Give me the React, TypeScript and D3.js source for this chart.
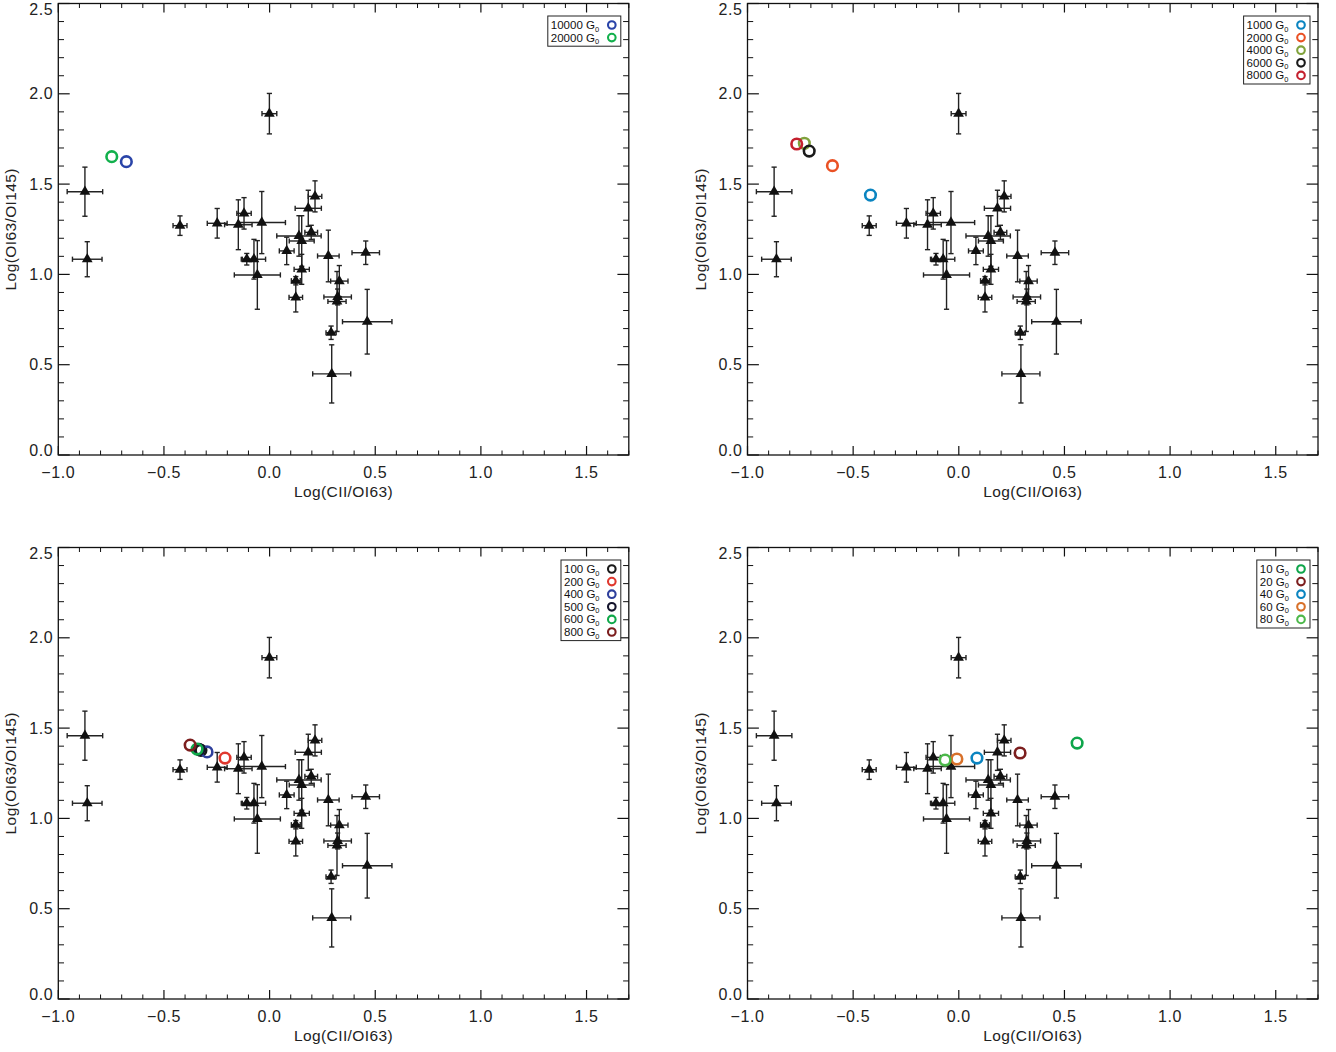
import React from 'react';
import * as d3 from 'd3';

// Observed sources: Log(CII/OI63) vs Log(OI63/OI145)
const obsX = [-0.874, -0.863, -0.424, -0.248, -0.148, -0.121, -0.037, -0.001, -0.108, -0.074, -0.058, 0.215, 0.183, 0.197, 0.139, 0.152, 0.081, 0.278, 0.455, 0.152, 0.124, 0.124, 0.330, 0.322, 0.319, 0.291, 0.294, 0.462];
const obsY = [1.458, 1.084, 1.270, 1.283, 1.275, 1.338, 1.287, 1.890, 1.084, 1.084, 0.997, 1.432, 1.366, 1.233, 1.213, 1.185, 1.130, 1.102, 1.120, 1.028, 0.965, 0.873, 0.963, 0.875, 0.850, 0.677, 0.449, 0.738];
const obsXErr = [0.084, 0.070, 0.033, 0.047, 0.065, 0.034, 0.112, 0.035, 0.026, 0.055, 0.109, 0.032, 0.062, 0.030, 0.105, 0.059, 0.035, 0.051, 0.065, 0.036, 0.021, 0.032, 0.041, 0.065, 0.043, 0.024, 0.090, 0.117];
const obsYErr = [0.136, 0.097, 0.054, 0.082, 0.138, 0.087, 0.172, 0.112, 0.032, 0.110, 0.190, 0.086, 0.100, 0.039, 0.112, 0.140, 0.076, 0.143, 0.065, 0.083, 0.023, 0.081, 0.086, 0.044, 0.166, 0.037, 0.161, 0.179];

// Model panels
const p1Labels = ['10000', '20000'];
const p1X = [-0.678, -0.747];
const p1Y = [1.624, 1.652];
const p1Colors = ['#2a44a8', '#12b04c'];

const p2Labels = ['1000', '2000', '4000', '6000', '8000'];
const p2X = [-0.418, -0.598, -0.731, -0.708, -0.767];
const p2Y = [1.439, 1.602, 1.726, 1.683, 1.722];
const p2Colors = ['#0a84c0', '#ea5124', '#80a23c', '#1a1a1a', '#c4202e'];

const p3Labels = ['100', '200', '400', '500', '600', '800'];
const p3X = [-0.325, -0.211, -0.296, -0.334, -0.343, -0.376];
const p3Y = [1.377, 1.334, 1.368, 1.382, 1.384, 1.406];
const p3Colors = ['#1a1a1a', '#e0382e', '#2e3f9c', '#14142c', '#10a84a', '#7c1e1e'];

const p4Labels = ['10', '20', '40', '60', '80'];
const p4X = [0.560, 0.290, 0.086, -0.009, -0.065];
const p4Y = [1.417, 1.362, 1.334, 1.329, 1.323];
const p4Colors = ['#0ea54a', '#7c1e1e', '#0a84c0', '#d8712a', '#4cb84a'];

const xTickValues = [-1.0, -0.5, 0.0, 0.5, 1.0, 1.5];
const yTickValues = [0.0, 0.5, 1.0, 1.5, 2.0, 2.5];
const xTitle = 'Log(CII/OI63)';
const yTitle = 'Log(OI63/OI145)';

const PW = 570.5;
const PH = 451.5;
const FONT = '"Liberation Sans", Arial, sans-serif';

const panelsPos = [
  { left: 58.3, top: 3.5 },
  { left: 747.5, top: 3.5 },
  { left: 58.3, top: 547.5 },
  { left: 747.5, top: 547.5 },
];

const models = [
  { labels: p1Labels, xs: p1X, ys: p1Y, colors: p1Colors },
  { labels: p2Labels, xs: p2X, ys: p2Y, colors: p2Colors },
  { labels: p3Labels, xs: p3X, ys: p3Y, colors: p3Colors },
  { labels: p4Labels, xs: p4X, ys: p4Y, colors: p4Colors },
];

function Panel({ left, top, model }: any) {
  const x = d3.scaleLinear().domain([-1, 1.7]).range([left, left + PW]);
  const y = d3.scaleLinear().domain([0, 2.5]).range([top + PH, top]);
  const fmt = d3.format('.1f');
  const xMinor = d3.range(0, 28).map((i) => -1 + i * 0.1).filter((v) => Math.abs(v * 2 - Math.round(v * 2)) > 1e-6);
  const yMinor = d3.range(0, 26).map((i) => i * 0.1).filter((v) => Math.abs(v * 2 - Math.round(v * 2)) > 1e-6);
  const xMajLen = 9, xMinLen = 4.5, yMajLen = 11.4, yMinLen = 5.7;
  const bottom = top + PH, right = left + PW;
  const tri = d3.symbol().type(d3.symbolTriangle).size(50)();
  const cap = 2.6;

  const digits = model.labels[model.labels.length - 1].length;
  const boxW = 40 + 6.6 * digits;
  const boxR = right - 8;
  const boxL = boxR - boxW;
  const boxT = top + 12.5;
  const rowH = 12.6;
  const boxH = model.labels.length * rowH + 5;

  return (
    <g>
      <rect x={left} y={top} width={PW} height={PH} fill="none" stroke="#111" strokeWidth={1.3} />
      {xTickValues.map((v) => (
        <g key={'xm' + v}>
          <line x1={x(v)} x2={x(v)} y1={bottom} y2={bottom - xMajLen} stroke="#111" strokeWidth={1.2} />
          <line x1={x(v)} x2={x(v)} y1={top} y2={top + xMajLen} stroke="#111" strokeWidth={1.2} />
          <text x={x(v)} y={bottom + 23} textAnchor="middle" fontSize={16} letterSpacing={0.6} fontFamily={FONT} fill="#222">{fmt(v)}</text>
        </g>
      ))}
      {xMinor.map((v, i) => (
        <g key={'xn' + i}>
          <line x1={x(v)} x2={x(v)} y1={bottom} y2={bottom - xMinLen} stroke="#111" strokeWidth={1} />
          <line x1={x(v)} x2={x(v)} y1={top} y2={top + xMinLen} stroke="#111" strokeWidth={1} />
        </g>
      ))}
      {yTickValues.map((v) => {
        const ty = Math.min(Math.max(y(v), top + 6), bottom - 5);
        return (
          <g key={'ym' + v}>
            <line x1={left} x2={left + yMajLen} y1={y(v)} y2={y(v)} stroke="#111" strokeWidth={1.2} />
            <line x1={right} x2={right - yMajLen} y1={y(v)} y2={y(v)} stroke="#111" strokeWidth={1.2} />
            <text x={left - 5} y={ty} dy="0.35em" textAnchor="end" fontSize={16} letterSpacing={0.6} fontFamily={FONT} fill="#222">{fmt(v)}</text>
          </g>
        );
      })}
      {yMinor.map((v, i) => (
        <g key={'yn' + i}>
          <line x1={left} x2={left + yMinLen} y1={y(v)} y2={y(v)} stroke="#111" strokeWidth={1} />
          <line x1={right} x2={right - yMinLen} y1={y(v)} y2={y(v)} stroke="#111" strokeWidth={1} />
        </g>
      ))}
      <text x={(left + right) / 2} y={bottom + 42} textAnchor="middle" fontSize={15.5} letterSpacing={0.4} fontFamily={FONT} fill="#222">{xTitle}</text>
      <text transform={`translate(${left - 42},${(top + bottom) / 2}) rotate(-90)`} textAnchor="middle" fontSize={15.5} letterSpacing={0.4} fontFamily={FONT} fill="#222">{yTitle}</text>

      {obsX.map((vx, i) => {
        const cx = x(vx), cy = y(obsY[i]);
        const x0 = x(vx - obsXErr[i]), x1 = x(vx + obsXErr[i]);
        const y0 = y(obsY[i] - obsYErr[i]), y1 = y(obsY[i] + obsYErr[i]);
        return (
          <g key={'e' + i} stroke="#222" strokeWidth={1.4}>
            <line x1={x0} x2={x1} y1={cy} y2={cy} />
            <line x1={x0} x2={x0} y1={cy - cap} y2={cy + cap} />
            <line x1={x1} x2={x1} y1={cy - cap} y2={cy + cap} />
            <line x1={cx} x2={cx} y1={y0} y2={y1} />
            <line x1={cx - cap} x2={cx + cap} y1={y0} y2={y0} />
            <line x1={cx - cap} x2={cx + cap} y1={y1} y2={y1} />
          </g>
        );
      })}
      {obsX.map((vx, i) => (
        <path key={'t' + i} d={tri as string} transform={`translate(${x(vx)},${y(obsY[i])})`} fill="#111" />
      ))}

      {model.xs.map((vx: number, i: number) => (
        <circle key={'c' + i} cx={x(vx)} cy={y(model.ys[i])} r={5.3} fill="none" stroke={model.colors[i]} strokeWidth={2.6} />
      ))}

      <rect x={boxL} y={boxT} width={boxW} height={boxH} fill="#fff" stroke="#222" strokeWidth={1} />
      {model.labels.map((lab: string, i: number) => {
        const ry = boxT + 9 + i * rowH;
        return (
          <g key={'l' + i}>
            <text x={boxL + 3} y={ry} dy="0.35em" fontSize={11.5} fontFamily={FONT} fill="#111">
              {lab + ' G'}
              <tspan fontSize={7.5} dy="2.5">0</tspan>
            </text>
            <circle cx={boxR - 9} cy={ry} r={3.8} fill="none" stroke={model.colors[i]} strokeWidth={2.1} />
          </g>
        );
      })}
    </g>
  );
}

export default function App() {
  return (
    <svg width={1336} height={1052} style={{ position: 'absolute', left: 0, top: 0, background: '#fff' }}>
      <rect width={1336} height={1052} fill="#fff" />
      {panelsPos.map((p, i) => (
        <Panel key={i} left={p.left} top={p.top} model={models[i]} />
      ))}
    </svg>
  );
}
